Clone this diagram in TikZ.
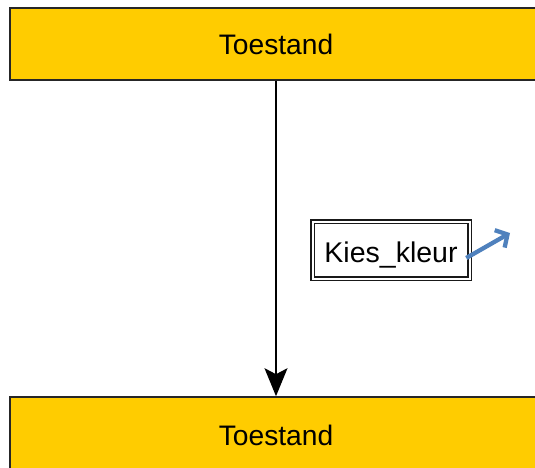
\documentclass[tikz,border=0pt]{standalone}
\usepackage{fontspec}
\setmainfont{Liberation Sans}
\usetikzlibrary{arrows.meta}
\definecolor{stateyellow}{HTML}{FFCC00}
\definecolor{linkblue}{HTML}{4F81BD}
\begin{document}
\begin{tikzpicture}[x=1pt,y=-1pt,
  statebox/.style={draw=black!85,line width=1.6pt,fill=stateyellow,minimum width=532pt,minimum height=72pt,inner sep=0pt,text depth=0pt,font=\fontsize{28.2}{32}\selectfont},
  eventbox/.style={draw=black!90,line width=1.5pt,double=white,double distance=2pt,minimum width=157pt,minimum height=57pt,inner sep=0pt,text height=24pt,text depth=0pt,font=\fontsize{28.5}{32}\selectfont},
  flow/.style={line width=1.3pt,-{Stealth[length=28pt,width=23pt,inset=6pt]}},
  link/.style={draw=linkblue,line width=4.3pt,-{Straight Barb[length=9pt,width=20pt,line width=4.3pt]}}]
\useasboundingbox (0,0) rectangle (535,468);
\clip (0,0) rectangle (535,468);
\node[statebox,text height=22pt] (top) at (276,44) {Toestand};
\node[statebox,text height=24pt] (bottom) at (276,433) {Toestand};
\draw[flow] (top.south) -- (bottom.north);
\node[eventbox] (kies) at (391,250) {Kies\_kleur};
\coordinate (linkend) at (510,233);
\draw[link] ([xshift=-4pt]kies.east |- 0,258) -- (linkend);
\end{tikzpicture}
\end{document}
